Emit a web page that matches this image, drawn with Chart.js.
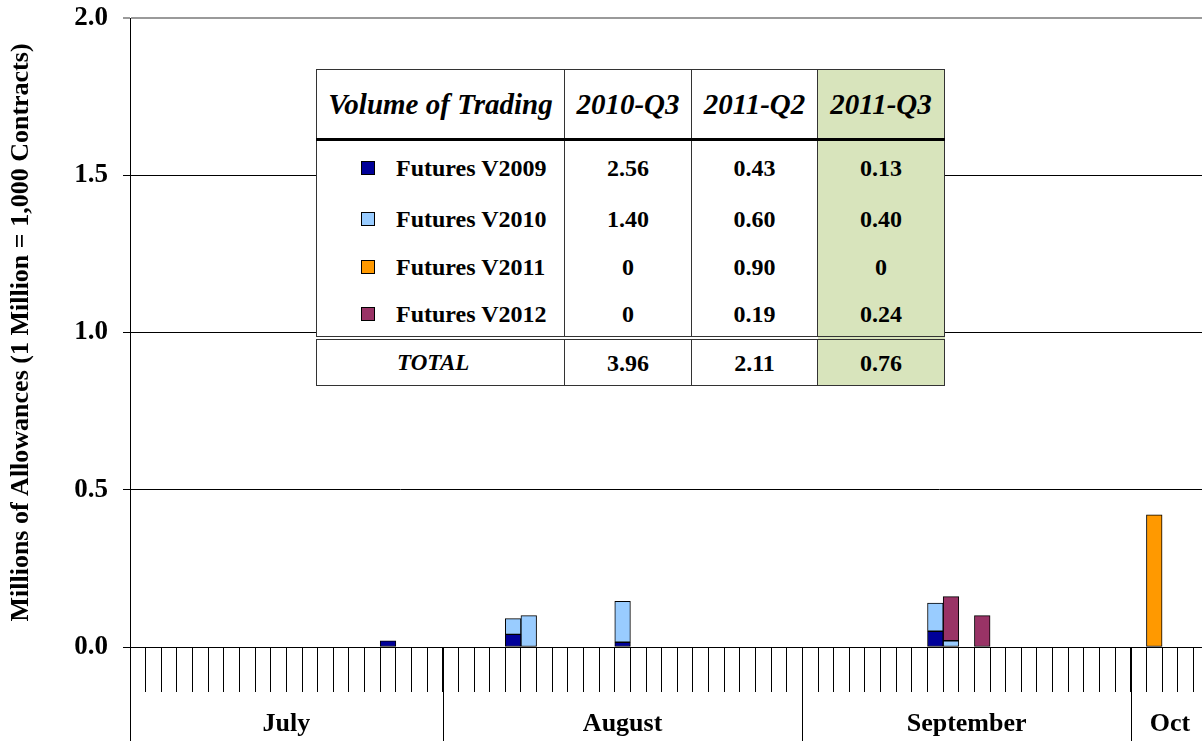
<!DOCTYPE html>
<html lang="en">
<head>
  <meta charset="UTF-8" />
  <title>Daily Volume of Trading - 2011 Q3</title>
  <script src="https://cdn.jsdelivr.net/npm/chart.js"></script>
  <style>
    body {
      margin: 0;
      background: #fff;
      overflow: hidden;
      font-family: 'Liberation Serif', Tinos, 'Times New Roman', Times, 'Nimbus Roman', 'DejaVu Serif', serif;
    }
    #wrap {
      position: relative;
      width: 1210px;
      height: 741px;
    }
    #summary {
      position: absolute;
      left: 316px;
      top: 69px;
      border-collapse: collapse;
      background: #fff;
      font-weight: bold;
      color: #000;
      border: 1.5px solid #333;
      table-layout: fixed;
    }
    #summary th, #summary td {
      padding: 0;
      line-height: 1;
      vertical-align: middle;
      text-align: center;
      border-left: 1px solid #333;
      border-right: 1px solid #333;
    }
    #summary th {
      height: 68px;
      font-size: 29px;
      font-style: italic;
      border-bottom: 3px solid #000;
    }
    #summary td { font-size: 24px; }
    #summary td.name {
      text-align: left;
      padding-left: 44px;
      white-space: nowrap;
    }
    #summary .sq {
      display: inline-block;
      width: 12px;
      height: 12px;
      border: 1px solid #000;
      margin-right: 21px;
      vertical-align: 1px;
    }
    #summary tr.total td {
      border-top: 4px double #333;
      height: 45px;
    }
    #summary tr.total td.name {
      font-style: italic;
      font-size: 23px;
      padding-left: 80px;
    }
    #summary .hl { background: #d8e4bc; }
  </style>
</head>
<body>

  <div id="wrap">
    <canvas id="volumeChart"></canvas>
    <table id="summary">
      <colgroup>
        <col style="width:248px" /><col style="width:127px" /><col style="width:126px" /><col style="width:127px" />
      </colgroup>
      <thead>
        <tr><th>Volume of Trading</th><th>2010-Q3</th><th>2011-Q2</th><th class="hl">2011-Q3</th></tr>
      </thead>
      <tbody id="summaryBody"></tbody>
    </table>
  </div>

  <script>
    // trading days (day of month) shown on the x axis
    const julyDays = [1, 5, 6, 7, 8, 11, 12, 13, 14, 15, 18, 19, 20, 21, 22, 25, 26, 27, 28, 29];
    const augustDays = [1, 2, 3, 4, 5, 8, 9, 10, 11, 12, 15, 16, 17, 18, 19, 22, 23, 24, 25, 26, 29, 30, 31];
    const septemberDays = [1, 2, 6, 7, 8, 9, 12, 13, 14, 15, 16, 19, 20, 21, 22, 23, 26, 27, 28, 29, 30];
    const octoberDays = [3, 4, 5, 6, 7];

    const months = ['July', 'August', 'September', 'Oct'];
    const monthDays = [julyDays, augustDays, septemberDays, octoberDays];

    // daily volume, millions of allowances (Jul | Aug | Sep | Oct)
    const futuresV2009 = [
      0, 0, 0, 0, 0, 0, 0, 0, 0, 0, 0, 0, 0, 0, 0, 0, 0.02, 0, 0, 0,
      0, 0, 0, 0, 0.04, 0, 0, 0, 0, 0, 0, 0.015, 0, 0, 0, 0, 0, 0, 0, 0, 0, 0, 0,
      0, 0, 0, 0, 0, 0, 0, 0, 0.05, 0, 0, 0, 0, 0, 0, 0, 0, 0, 0, 0, 0,
      0, 0, 0, 0, 0
    ];
    const futuresV2010 = [
      0, 0, 0, 0, 0, 0, 0, 0, 0, 0, 0, 0, 0, 0, 0, 0, 0, 0, 0, 0,
      0, 0, 0, 0, 0.05, 0.10, 0, 0, 0, 0, 0, 0.13, 0, 0, 0, 0, 0, 0, 0, 0, 0, 0, 0,
      0, 0, 0, 0, 0, 0, 0, 0, 0.09, 0.02, 0, 0, 0, 0, 0, 0, 0, 0, 0, 0, 0,
      0, 0, 0, 0, 0
    ];
    const futuresV2011 = [
      0, 0, 0, 0, 0, 0, 0, 0, 0, 0, 0, 0, 0, 0, 0, 0, 0, 0, 0, 0,
      0, 0, 0, 0, 0, 0, 0, 0, 0, 0, 0, 0, 0, 0, 0, 0, 0, 0, 0, 0, 0, 0, 0,
      0, 0, 0, 0, 0, 0, 0, 0, 0, 0, 0, 0, 0, 0, 0, 0, 0, 0, 0, 0, 0,
      0, 0.42, 0, 0, 0
    ];
    const futuresV2012 = [
      0, 0, 0, 0, 0, 0, 0, 0, 0, 0, 0, 0, 0, 0, 0, 0, 0, 0, 0, 0,
      0, 0, 0, 0, 0, 0, 0, 0, 0, 0, 0, 0, 0, 0, 0, 0, 0, 0, 0, 0, 0, 0, 0,
      0, 0, 0, 0, 0, 0, 0, 0, 0, 0.14, 0, 0.10, 0, 0, 0, 0, 0, 0, 0, 0, 0,
      0, 0, 0, 0, 0
    ];

    const yTicks = [0, 0.5, 1.0, 1.5, 2.0];

    // summary table
    const seriesNames = ['Futures V2009', 'Futures V2010', 'Futures V2011', 'Futures V2012'];
    const seriesColors = ['#000099', '#99ccff', '#ff9900', '#993366'];
    const quarterV2009 = ['2.56', '0.43', '0.13'];
    const quarterV2010 = ['1.40', '0.60', '0.40'];
    const quarterV2011 = ['0', '0.90', '0'];
    const quarterV2012 = ['0', '0.19', '0.24'];
    const quarterTotal = ['3.96', '2.11', '0.76'];

    const serifFont = '"Liberation Serif", Tinos, "Times New Roman", Times, "Nimbus Roman", "DejaVu Serif", serif';

    const labels = [];
    monthDays.forEach((days, m) => days.forEach(d => labels.push(months[m].slice(0, 3) + ' ' + d)));

    // build table rows
    const body = document.getElementById('summaryBody');
    const rowHeights = [54, 48, 48, 45];
    [quarterV2009, quarterV2010, quarterV2011, quarterV2012].forEach((vals, i) => {
      const tr = document.createElement('tr');
      let html = `<td class="name" style="height:${rowHeights[i]}px"><span class="sq" style="background:${seriesColors[i]}"></span>${seriesNames[i]}</td>`;
      vals.forEach((v, j) => { html += `<td${j === 2 ? ' class="hl"' : ''}>${v}</td>`; });
      tr.innerHTML = html;
      body.appendChild(tr);
    });
    const totalRow = document.createElement('tr');
    totalRow.className = 'total';
    totalRow.innerHTML = '<td class="name">TOTAL</td>' +
      quarterTotal.map((v, j) => `<td${j === 2 ? ' class="hl"' : ''}>${v}</td>`).join('');
    body.appendChild(totalRow);

    // month separators and names under the day ticks
    const monthAxis = {
      id: 'monthAxis',
      afterDraw(chart) {
        const ctx = chart.ctx;
        const x = chart.scales.x;
        const top = chart.chartArea.bottom;
        const bottom = chart.height;
        ctx.save();
        ctx.strokeStyle = '#000';
        ctx.lineWidth = 1;
        ctx.fillStyle = '#000';
        ctx.font = 'bold 26px ' + serifFont;
        ctx.textAlign = 'center';
        ctx.textBaseline = 'middle';
        let start = 0;
        monthDays.forEach((days, m) => {
          const x0 = x.getPixelForValue(start - 0.5);
          const x1 = Math.min(x.getPixelForValue(start + days.length - 0.5), chart.chartArea.right);
          ctx.beginPath();
          ctx.moveTo(Math.round(x0) + 0.5, top);
          ctx.lineTo(Math.round(x0) + 0.5, bottom);
          ctx.stroke();
          ctx.fillText(months[m], (x0 + x1) / 2, 724);
          start += days.length;
        });
        ctx.restore();
      }
    };

    Chart.defaults.font.family = serifFont;
    Chart.defaults.color = '#000';

    const ctx = document.getElementById('volumeChart').getContext('2d');
    new Chart(ctx, {
      type: 'bar',
      data: {
        labels: labels,
        datasets: [futuresV2009, futuresV2010, futuresV2011, futuresV2012].map((d, i) => ({
          label: seriesNames[i],
          data: d,
          backgroundColor: seriesColors[i],
          borderColor: '#000',
          borderWidth: 1,
          borderSkipped: false,
          barPercentage: 1,
          categoryPercentage: 1
        }))
      },
      options: {
        responsive: true,
        maintainAspectRatio: false,
        animation: false,
        layout: { padding: { top: 18, right: 1, left: 0, bottom: 0 } },
        plugins: {
          legend: { display: false },
          tooltip: { enabled: false }
        },
        scales: {
          x: {
            stacked: true,
            offset: true,
            afterFit: s => { s.height = 94; },
            ticks: { display: false },
            grid: {
              offset: true,
              drawOnChartArea: false,
              drawTicks: true,
              tickLength: 45,
              color: '#000',
              lineWidth: 1
            },
            border: { display: true, color: '#000', width: 1 }
          },
          y: {
            stacked: true,
            min: 0,
            max: 2,
            afterFit: s => { s.width = 130; },
            afterBuildTicks: s => { s.ticks = yTicks.map(v => ({ value: v })); },
            ticks: {
              padding: 15,
              // small line height so the top label does not push the plot down
              font: { size: 27, weight: 'bold', lineHeight: 0.2 },
              callback: v => Number(v).toFixed(1)
            },
            grid: {
              color: c => (c.tick && c.tick.value === 2 ? '#9a9a9a' : '#000'),
              lineWidth: c => (c.tick && c.tick.value === 2 ? 2 : 1),
              tickLength: 7
            },
            border: { display: true, color: '#000', width: 1 },
            title: {
              display: true,
              text: 'Millions of Allowances (1 Million = 1,000 Contracts)',
              font: { size: 26, weight: 'bold' },
              padding: { top: 6, bottom: 0 }
            }
          }
        }
      },
      plugins: [monthAxis]
    });
  </script>

</body>
</html>
